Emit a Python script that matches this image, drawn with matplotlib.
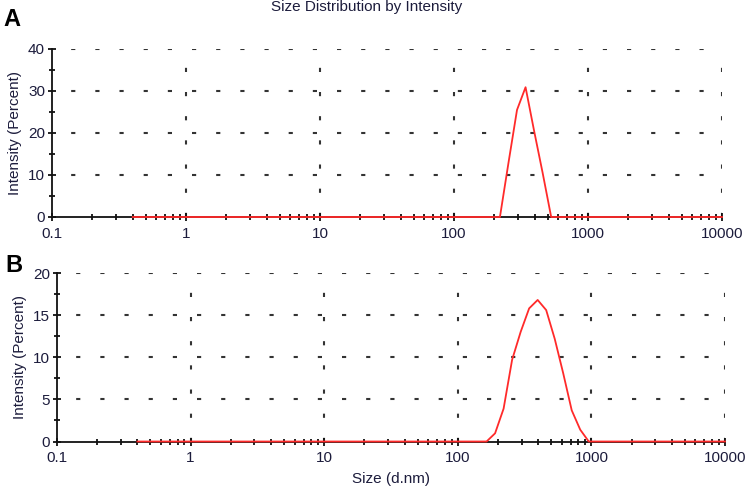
import matplotlib
matplotlib.use('Agg')
import matplotlib.pyplot as plt
from matplotlib.ticker import LogLocator, FixedLocator, NullFormatter

plt.rcParams['font.family'] = ['Liberation Sans', 'DejaVu Sans']

# Panel A: size bins (d.nm) and intensity (%)
sizes_a = [0.4, 220.2, 255.0, 295.3, 342.0, 396.1, 458.7, 531.2, 10000]
intensity_a = [0, 0, 12.9, 25.5, 30.9, 20.5, 10.5, 0, 0]

# Panel B
sizes_b = [0.4, 164.2, 190.1, 220.2, 255.0, 295.3, 342.0, 396.1, 458.7,
           531.2, 615.1, 712.4, 825.0, 955.4, 10000]
intensity_b = [0, 0, 0.97, 3.9, 9.7, 13.0, 15.8, 16.8, 15.6, 12.2, 8.1,
               3.7, 1.4, 0, 0]

x_ticks = [0.1, 1, 10, 100, 1000, 10000]
x_labels = ['0.1', '1', '10', '100', '1000', '10000']

ymax_a, ystep_a = 40, 10
ymax_b, ystep_b = 20, 5

text_col = '#1c1c3c'
grid_col = '#333333'

fig = plt.figure(figsize=(7.5, 4.98), dpi=100)
ax_a = fig.add_axes([52/750, 1-217/498, 670/750, 168/498])
ax_b = fig.add_axes([57/750, 1-441.5/498, 668/750, 168.5/498])


def style_panel(ax, sizes, vals, ymax, ystep):
    ax.set_xscale('log')
    ax.set_xlim(0.1, 10000)
    ax.set_ylim(0, ymax)
    for s in ['top', 'right']:
        ax.spines[s].set_visible(False)
    for s in ['left', 'bottom']:
        ax.spines[s].set_linewidth(1.3)
        ax.spines[s].set_color('#111111')
    ax.set_xticks(x_ticks)
    ax.set_xticklabels(x_labels)
    ax.xaxis.set_minor_locator(LogLocator(base=10, subs=range(2, 10), numticks=20))
    ax.xaxis.set_minor_formatter(NullFormatter())
    ax.set_yticks(list(range(0, ymax + 1, ystep)))
    ax.yaxis.set_minor_locator(FixedLocator([y + ystep / 2 for y in range(0, ymax, ystep)]))
    ax.tick_params(which='major', direction='inout', length=6, width=1.3,
                   color='#111111', labelsize=11, labelcolor=text_col)
    ax.tick_params(which='minor', direction='inout', length=4, width=1.3,
                   color='#111111')
    ax.tick_params(axis='x', which='major', pad=4)
    ax.tick_params(axis='y', which='major', pad=2)
    # dashed grid
    for y in range(ystep, ymax + 1, ystep):
        ax.axhline(y, color=grid_col, lw=1.5, linestyle=(14, (2.0, 9.6)), zorder=1)
    for x in x_ticks[1:]:
        ax.axvline(x, color=grid_col, lw=1.5, linestyle=(0, (2.0, 9.6)), zorder=1)
    ax.plot(sizes, vals, color='#ff2a2a', lw=1.3, zorder=5, clip_on=False)
    ax.set_ylabel('Intensity (Percent)', fontsize=11, color=text_col, labelpad=4)


style_panel(ax_a, sizes_a, intensity_a, ymax_a, ystep_a)
style_panel(ax_b, sizes_b, intensity_b, ymax_b, ystep_b)

ax_b.set_xlabel('Size (d.nm)', fontsize=11, color=text_col, labelpad=5)
fig.text(367/750, 1-7/498, 'Size Distribution by Intensity', ha='center', va='center',
         fontsize=11, color=text_col)
fig.text(12/750, 1-19/498, 'A', ha='center', va='center', fontsize=17, fontweight='bold')
fig.text(14/750, 1-265/498, 'B', ha='center', va='center', fontsize=17, fontweight='bold')

fig.savefig('out.png', dpi=100)
